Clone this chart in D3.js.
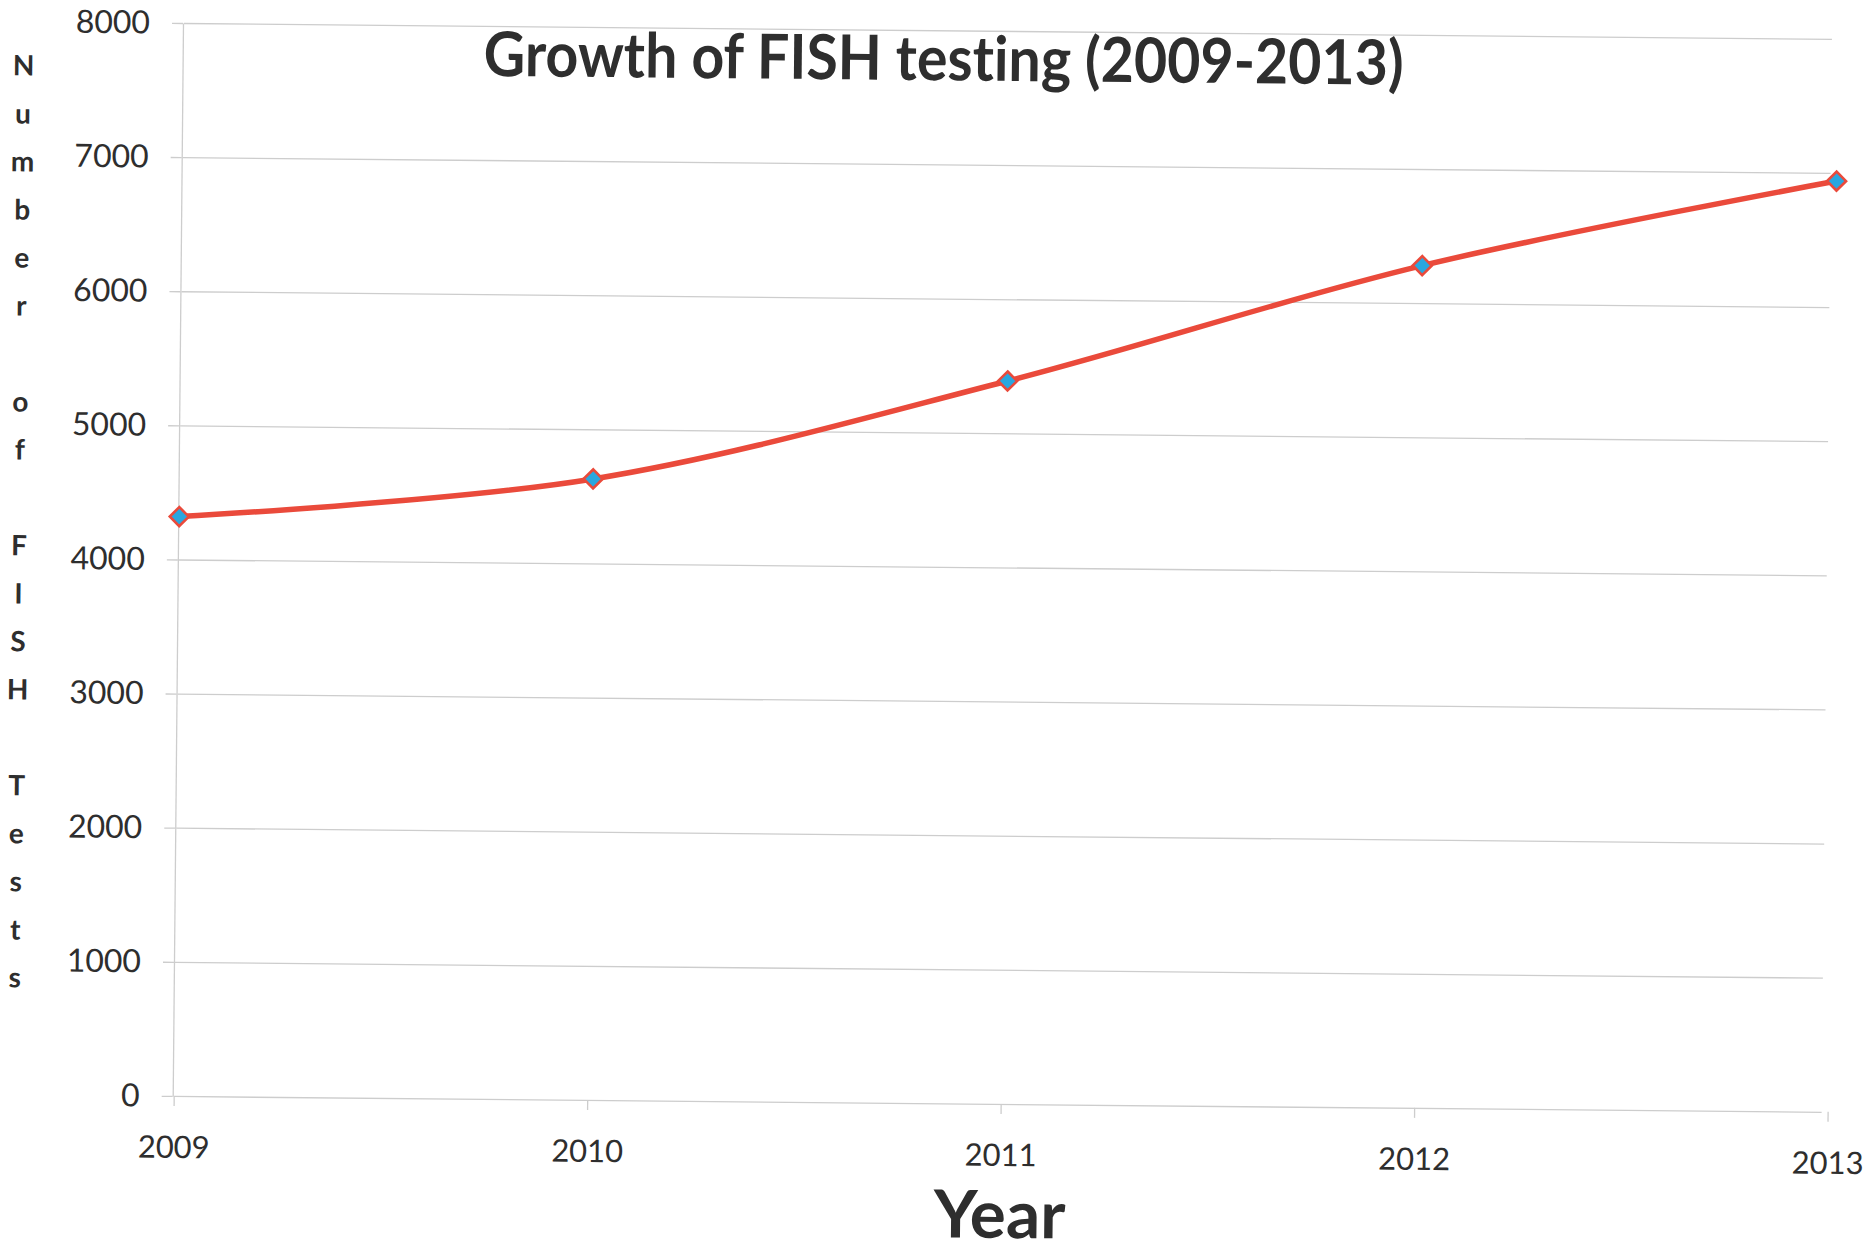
<!DOCTYPE html>
<html>
<head>
<meta charset="utf-8">
<script src="https://cdn.jsdelivr.net/npm/d3@7"></script>
<style>
  html, body { margin: 0; padding: 0; background: #ffffff; }
  svg { display: block; }
  text { font-variant-ligatures: none; font-feature-settings: "liga" 0; }
</style>
</head>
<body>
<script>
// Yearly FISH test counts
const years = ["2009", "2010", "2011", "2012", "2013"];
const tests = [4320, 4630, 5390, 6280, 6940];
const yTicks = [0, 1000, 2000, 3000, 4000, 5000, 6000, 7000, 8000];
const titleText = "Growth of FISH testing (2009-2013)";
const xTitle = "Year";
const yTitle = "Number of FISH Tests";

const W = 1866, H = 1253;
const plot = { left: 184, right: 1838, top: 20, bottom: 1093 };
const ink = "#2e2e2e";
const lineColor = "#ea4a3b";
const markerFill = "#2aa7df";
const gridColor = "#cdcdcd";
const font = "Lato, 'Open Sans', sans-serif";

const svg = d3.select("body").append("svg")
  .attr("width", W).attr("height", H);

// whole page sits at a slight tilt
const g = svg.append("g")
  .attr("transform", `translate(0,3) rotate(0.55, ${plot.left - 1}, ${plot.top})`);

const x = d3.scalePoint().domain(years).range([plot.left, plot.right]);
const y = d3.scaleLinear().domain([0, 8000]).range([plot.bottom, plot.top]);

// horizontal gridlines
g.append("g")
  .attr("transform", `translate(${plot.left},0)`)
  .call(d3.axisLeft(y).tickValues(yTicks).tickFormat("")
    .tickSize(-(plot.right - plot.left - 6)).tickSizeOuter(0))
  .call(s => s.select(".domain").remove())
  .call(s => s.selectAll(".tick line")
    .attr("stroke", gridColor).attr("stroke-width", 1.3));

// y axis with labels
g.append("g")
  .attr("transform", `translate(${plot.left - 1},0)`)
  .call(d3.axisLeft(y).tickValues(yTicks).tickFormat(d3.format("d"))
    .tickSize(11).tickPadding(22).tickSizeOuter(0))
  .call(s => s.select(".domain").attr("stroke", gridColor).attr("stroke-width", 1.3))
  .call(s => s.selectAll(".tick line").attr("stroke", gridColor).attr("stroke-width", 1.3))
  .call(s => s.selectAll(".tick text")
    .attr("fill", ink).attr("font-family", font).attr("font-size", 32));

// x axis with year labels
g.append("g")
  .attr("transform", `translate(0,${plot.bottom})`)
  .call(d3.axisBottom(x).tickSize(10).tickPadding(30).tickSizeOuter(0))
  .call(s => s.select(".domain").remove())
  .call(s => s.selectAll(".tick line").attr("stroke", gridColor).attr("stroke-width", 1.3))
  .call(s => s.selectAll(".tick text")
    .attr("fill", ink).attr("font-family", font).attr("font-size", 31));

// smoothed series line
const pts = years.map((yr, i) => ({ yr, v: tests[i] }));
g.append("path")
  .datum(pts)
  .attr("fill", "none")
  .attr("stroke", lineColor)
  .attr("stroke-width", 5.5)
  .attr("stroke-linecap", "round")
  .attr("d", d3.line().x(d => x(d.yr)).y(d => y(d.v)).curve(d3.curveCatmullRom.alpha(0.5)));

// diamond markers
const r = 9.5;
g.append("g").selectAll("path")
  .data(pts)
  .join("path")
  .attr("transform", d => `translate(${x(d.yr)},${y(d.v)})`)
  .attr("d", `M0,${-r}L${r},0L0,${r}L${-r},0Z`)
  .attr("fill", markerFill)
  .attr("stroke", lineColor)
  .attr("stroke-width", 2.6);

// chart title
g.append("text")
  .attr("x", 944).attr("y", 70)
  .attr("text-anchor", "middle")
  .attr("font-family", font).attr("font-weight", 700).attr("font-size", 62)
  .attr("fill", ink)
  .attr("textLength", 920).attr("lengthAdjust", "spacingAndGlyphs")
  .text(titleText);

// x axis title
g.append("text")
  .attr("x", (plot.left + plot.right) / 2).attr("y", 1227)
  .attr("text-anchor", "middle")
  .attr("font-family", font).attr("font-weight", 700).attr("font-size", 66)
  .attr("fill", ink)
  .attr("textLength", 132).attr("lengthAdjust", "spacingAndGlyphs")
  .text(xTitle);

// y axis title, one character per line
const letters = Array.from(yTitle);
g.append("g").selectAll("text")
  .data(letters)
  .join("text")
  .attr("x", 24)
  .attr("y", (d, i) => 64 + i * 48 + 10)
  .attr("text-anchor", "middle")
  .attr("font-family", font).attr("font-weight", 700).attr("font-size", 28)
  .attr("fill", ink)
  .text(d => d);
</script>
</body>
</html>
